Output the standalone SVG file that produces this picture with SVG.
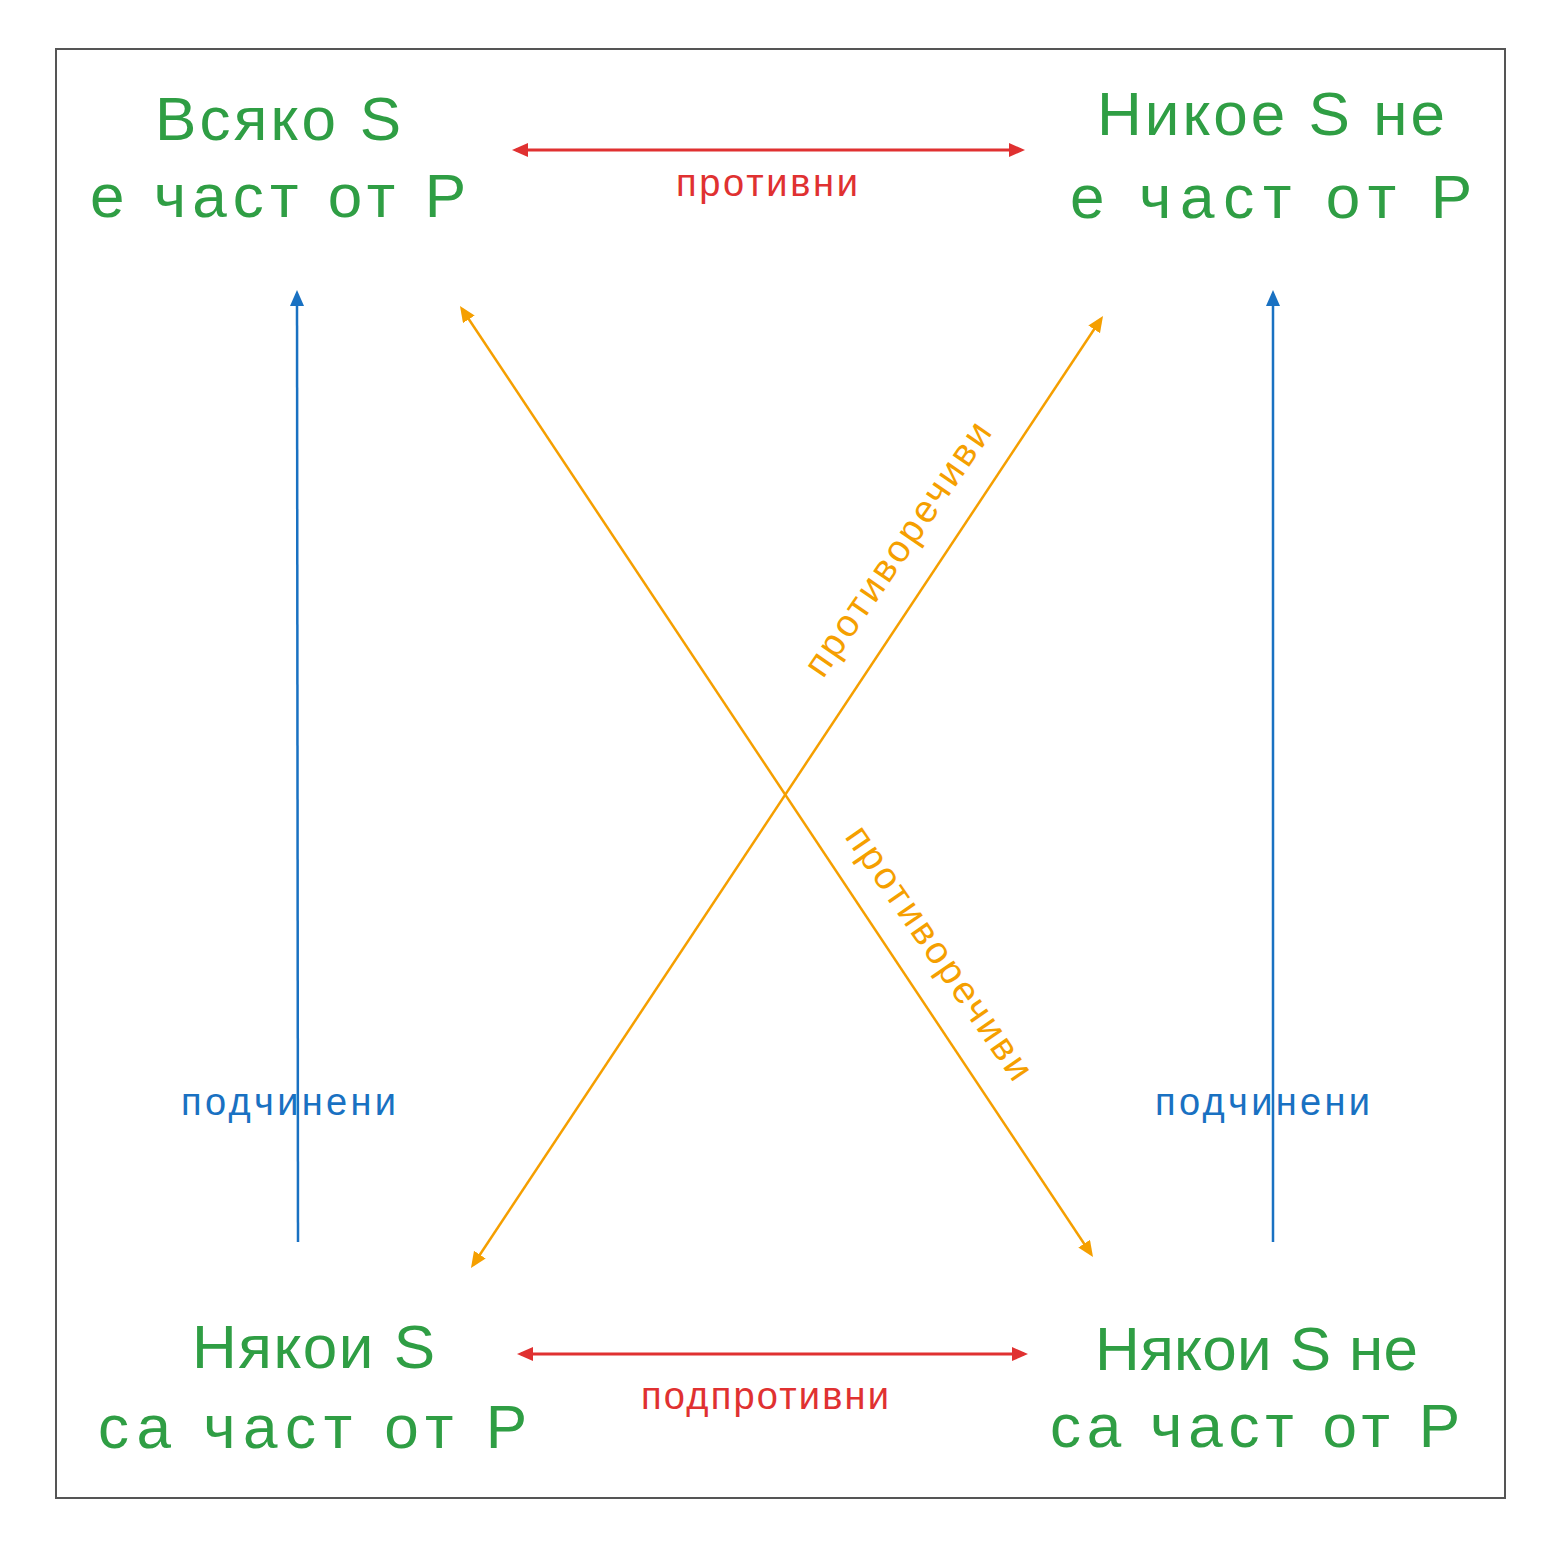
<svg xmlns="http://www.w3.org/2000/svg" width="1562" height="1554" viewBox="0 0 1562 1554">
<style>
.node{font-family:"Liberation Sans","DejaVu Sans",sans-serif;fill:#2f9e44;font-size:62px;}
.lbl{font-family:"Liberation Sans","DejaVu Sans",sans-serif;font-size:38px;}
.red{stroke:#e03131;stroke-width:3;fill:none;}
.blue{stroke:#1971c2;stroke-width:2.5;fill:none;}
.orange{stroke:#f59f00;stroke-width:2.5;fill:none;}
</style>
<defs>
<marker id="hr" markerUnits="userSpaceOnUse" markerWidth="18" markerHeight="16" refX="12" refY="7" orient="auto-start-reverse"><path d="M0,0 L16,7 L0,14 z" fill="#e03131"/></marker>
<marker id="hb" markerUnits="userSpaceOnUse" markerWidth="18" markerHeight="16" refX="12" refY="7" orient="auto-start-reverse"><path d="M0,0 L16,7 L0,14 z" fill="#1971c2"/></marker>
<marker id="ho" markerUnits="userSpaceOnUse" markerWidth="18" markerHeight="16" refX="12" refY="7" orient="auto-start-reverse"><path d="M0,0 L16,7 L0,14 z" fill="#f59f00"/></marker>
</defs>
<rect width="1562" height="1554" fill="#ffffff"/>
<rect id="frame" x="56" y="49" width="1449" height="1449" fill="none" stroke="#555555" stroke-width="2"/>
<g id="connectors">
<line class="red" x1="516" y1="150" x2="1021" y2="150" marker-start="url(#hr)" marker-end="url(#hr)"/>
<line class="red" x1="521" y1="1354" x2="1024" y2="1354" marker-start="url(#hr)" marker-end="url(#hr)"/>
<line class="blue" x1="298" y1="1242" x2="297" y2="294" marker-end="url(#hb)"/>
<line class="blue" x1="1273" y1="1242" x2="1273" y2="294" marker-end="url(#hb)"/>
<line class="orange" x1="462.2" y1="309.3" x2="1090.8" y2="1253.7" marker-start="url(#ho)" marker-end="url(#ho)"/>
<line class="orange" x1="1100.8" y1="319.3" x2="473.2" y2="1264.7" marker-start="url(#ho)" marker-end="url(#ho)"/>
</g>
<g id="labels">
<text class="lbl" fill="#e03131" x="676" y="196" textLength="182">противни</text>
<text class="lbl" fill="#e03131" x="641" y="1409" textLength="248">подпротивни</text>
<text class="lbl" fill="#1971c2" x="181" y="1115" textLength="215">подчинени</text>
<text class="lbl" fill="#1971c2" x="1155" y="1115" textLength="215">подчинени</text>
<text class="lbl" fill="#f59f00" x="0" y="0" text-anchor="middle" textLength="300" transform="translate(908,556) rotate(-55.5)">противоречиви</text>
<text class="lbl" fill="#f59f00" x="0" y="0" text-anchor="middle" textLength="300" transform="translate(929,960) rotate(55.5)">противоречиви</text>
</g>
<g id="node-A">
<text class="node" x="155" y="140" textLength="246">Всяко S</text>
<text class="node" x="90" y="217" textLength="376">е част от P</text>
</g>
<g id="node-E">
<text class="node" x="1097" y="135" textLength="348">Никое S не</text>
<text class="node" x="1070" y="218" textLength="402">е част от P</text>
</g>
<g id="node-I">
<text class="node" x="192" y="1368" textLength="243">Някои S</text>
<text class="node" x="98" y="1448" textLength="429">са част от P</text>
</g>
<g id="node-O">
<text class="node" x="1095" y="1370" textLength="323">Някои S не</text>
<text class="node" x="1050" y="1447" textLength="410">са част от P</text>
</g>
</svg>
